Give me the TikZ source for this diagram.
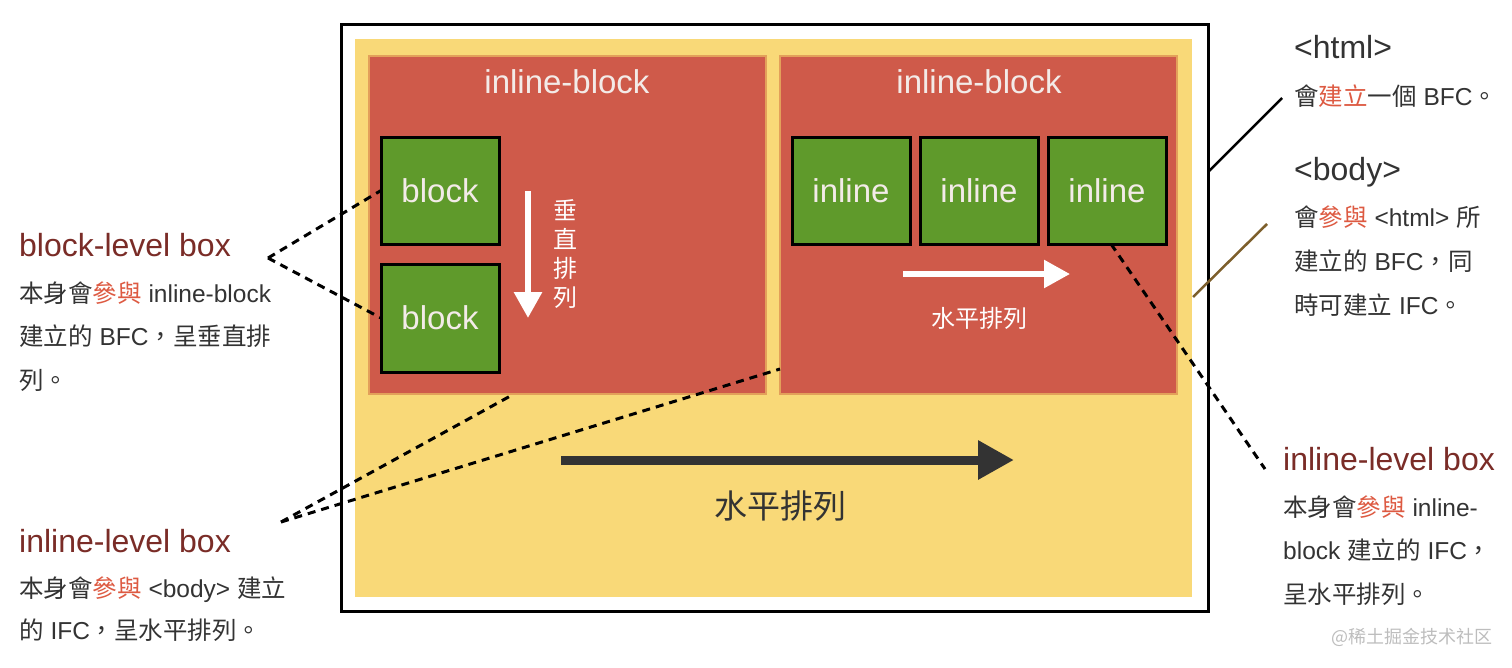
\documentclass[tikz,border=0pt]{standalone}
\usepackage{fontspec}
\setmainfont{Liberation Sans}
\newfontfamily\cjk{Noto Sans CJK TC}
\usetikzlibrary{arrows.meta}
\definecolor{ylw}{HTML}{F9D978}
\definecolor{redc}{HTML}{CF5A4A}
\definecolor{redborder}{HTML}{E3A05A}
\definecolor{grn}{HTML}{5F9A2B}
\definecolor{headc}{HTML}{7A2C27}
\definecolor{txt}{HTML}{333333}
\definecolor{hlc}{HTML}{DD5A42}
\definecolor{brn}{HTML}{7D5F2C}
\definecolor{lightc}{HTML}{F3EBE8}
\definecolor{wmark}{HTML}{BDBDBD}
\newcommand{\fbig}{\fontsize{33}{40}\selectfont}
\newcommand{\fhead}{\fontsize{32}{38}\selectfont}
\newcommand{\fbody}{\fontsize{24.5}{29}\selectfont}
\newcommand{\zh}[1]{{\cjk #1}}
\newcommand{\zhr}[1]{{\cjk\color{hlc}#1}}
\begin{document}
\begin{tikzpicture}[x=1pt,y=-1pt,
  box/.style={anchor=north west, inner sep=0pt, outer sep=0pt},
  redbox/.style={box, fill=redc, draw=redborder, line width=1.2pt, minimum width=397pt, minimum height=338pt},
  grnbox/.style={box, fill=grn, draw=black, line width=3pt, minimum width=118pt, minimum height=107pt, text=lightc, font=\fbig},
  title/.style={text=lightc, font=\fbig, inner sep=0pt},
  head/.style={anchor=base west, inner sep=0pt, text=headc, font=\fhead},
  headd/.style={anchor=base west, inner sep=0pt, text=txt, font=\fhead},
  body/.style={anchor=base west, inner sep=0pt, text=txt, font=\fbody},
  dashc/.style={draw=black, line width=3pt, dash pattern=on 8pt off 6pt},
  warrow/.style={draw=white, line width=6pt, -{Triangle[length=26pt,width=27pt]}},
  darrow/.style={draw=txt, line width=9pt, -{Triangle[length=36pt,width=37pt]}}
]
\useasboundingbox (0,0) rectangle (1512,667);

% containers
\node[box, draw=black, line width=3pt, minimum width=867pt, minimum height=587pt] (html) at (341,24) {};
\node[box, fill=ylw, minimum width=837pt, minimum height=558pt] (body) at (355,39) {};
\node[redbox] (redL) at (369,56) {};
\node[redbox] (redR) at (780,56) {};
\node[title] (tL) at (567,82) {inline-block};
\node[title] (tR) at (979,82) {inline-block};

% blocks
\node[grnbox] (blk1) at (381,137) {block};
\node[grnbox, minimum height=108pt] (blk2) at (381,264) {block};
\node[grnbox] (inl1) at (792,137) {inline};
\node[grnbox] (inl2) at (920,137) {inline};
\node[grnbox] (inl3) at (1048,137) {inline};

% arrows inside
\coordinate (va) at (528,191);
\coordinate (vb) at (528,318);
\draw[warrow] (va) -- (vb);
\node[text=white, font=\fontsize{24}{29}\selectfont\cjk, align=center, inner sep=0pt] (vt) at (565,254) {垂\\直\\排\\列};
\coordinate (ha) at (903,274);
\coordinate (hb) at (1070,274);
\draw[warrow, line width=5.5pt] (ha) -- (hb);
\node[text=white, font=\fontsize{24}{29}\selectfont\cjk, inner sep=0pt] (ht) at (979,318) {水平排列};
\coordinate (ba) at (561,460);
\coordinate (bb) at (1014,460);
\draw[darrow] (ba) -- (bb);
\node[text=txt, font=\fontsize{33}{40}\selectfont\cjk, inner sep=0pt] (bt) at (780,506) {水平排列};

% left annotations
\node[head] (lh1) at (19,256) {block-level box};
\node[body] (lb1) at (19,302) {\zh{本身會}\zhr{參與} inline-block};
\node[body] (lb2) at (19,345) {\zh{建立的} BFC\zh{，呈垂直排}};
\node[body] (lb3) at (19,389) {\zh{列。}};

\node[head] (lh2) at (19,552) {inline-level box};
\node[body] (lb4) at (19,597) {\zh{本身會}\zhr{參與} <body> \zh{建立}};
\node[body] (lb5) at (19,639) {\zh{的} IFC\zh{，呈水平排列。}};

% right annotations
\node[headd] (rh1) at (1294,58) {<html>};
\node[body] (rb1) at (1294,105) {\zh{會}\zhr{建立}\zh{一個} BFC\zh{。}};
\node[headd] (rh2) at (1294,180) {<body>};
\node[body] (rb2) at (1294,226) {\zh{會}\zhr{參與} <html> \zh{所}};
\node[body] (rb3) at (1294,270) {\zh{建立的} BFC\zh{，同}};
\node[body] (rb4) at (1294,314) {\zh{時可建立} IFC\zh{。}};

\node[head] (rh3) at (1283,470) {inline-level box};
\node[body] (rb5) at (1283,516) {\zh{本身會}\zhr{參與} inline-};
\node[body] (rb6) at (1283,559) {block \zh{建立的} IFC\zh{，}};
\node[body] (rb7) at (1283,603) {\zh{呈水平排列。}};

\node[anchor=base west, inner sep=0pt, text=wmark, font=\fontsize{18}{22}\selectfont\cjk] (wm) at (1331,643) {@稀土掘金技术社区};

% connectors
\coordinate (htmlEdge) at (1208,172);
\coordinate (htmlNote) at (1282,98);
\draw[black, line width=2.5pt] (htmlEdge) -- (htmlNote);
\coordinate (bodyEdge) at (1193,297);
\coordinate (bodyNote) at (1267,224);
\draw[brn, line width=2.5pt] (bodyEdge) -- (bodyNote);

\coordinate (blApex) at (268,258);
\draw[dashc] (blApex) -- (blk1.west);
\draw[dashc] (blApex) -- (blk2.west);

\coordinate (ilApex) at (281,522);
\coordinate (redLb) at (514,394);
\coordinate (redRl) at (780,369);
\draw[dashc] (ilApex) -- (redLb);
\draw[dashc] (ilApex) -- (redRl);

\coordinate (inl3b) at (1111,244);
\coordinate (irNote) at (1265,469);
\draw[dashc] (inl3b) -- (irNote);
\end{tikzpicture}
\end{document}
